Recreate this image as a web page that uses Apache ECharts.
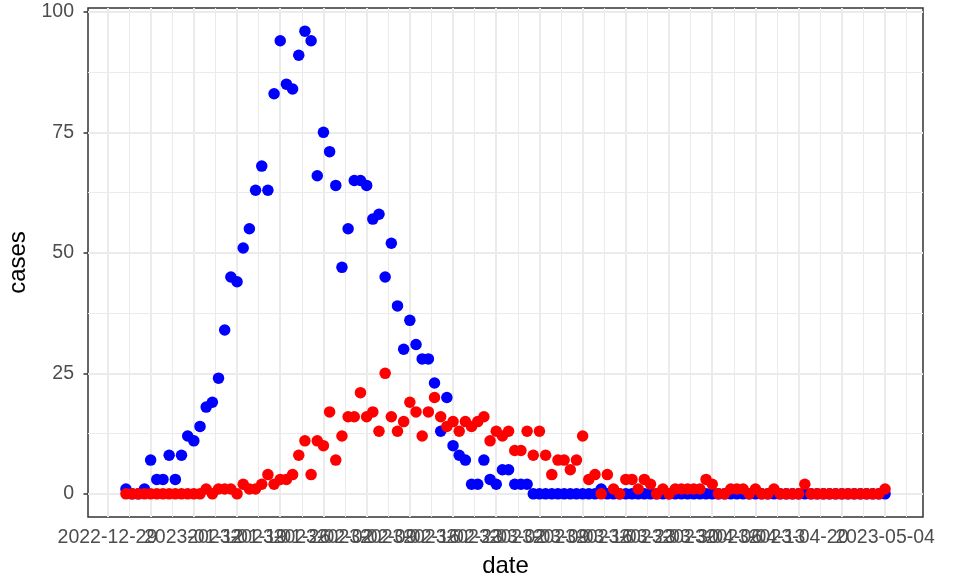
<!DOCTYPE html>
<html>
<head>
<meta charset="utf-8">
<script src="https://cdn.jsdelivr.net/npm/echarts@6/dist/echarts.min.js"></script>
<style>
html,body{margin:0;padding:0;background:#fff;}
#chart{width:953px;height:579px;}
</style>
</head>
<body>
<div id="chart"></div>
<script>
// ---- data ----
const startDate = '2023-01-01';
const blueCases = [
  1,0,0,1,7,3,3,8,3,8,
  12,11,14,18,19,24,34,45,44,51,
  55,63,68,63,83,94,85,84,91,96,
  94,66,75,71,64,47,55,65,65,64,
  57,58,45,52,39,30,36,31,28,28,
  23,13,20,10,8,7,2,2,7,3,
  2,5,5,2,2,2,0,0,0,0,
  0,0,0,0,0,0,0,1,0,0,
  0,0,0,0,0,0,0,0,0,0,
  0,0,0,0,0,0,0,0,0,0,
  0,0,0,0,0,0,0,0,0,0,
  0,0,0,0,0,0,0,0,0,0,
  0,0,0,0
];
const redCases = [
  0,0,0,0,0,0,0,0,0,0,
  0,0,0,1,0,1,1,1,0,2,
  1,1,2,4,2,3,3,4,8,11,
  4,11,10,17,7,12,16,16,21,16,
  17,13,25,16,13,15,19,17,12,17,
  20,16,14,15,13,15,14,15,16,11,
  13,12,13,9,9,13,8,13,8,4,
  7,7,5,7,12,3,4,0,4,1,
  0,3,3,1,3,2,0,1,0,1,
  1,1,1,1,3,2,0,0,1,1,
  1,0,1,0,0,1,0,0,0,0,
  2,0,0,0,0,0,0,0,0,0,
  0,0,0,1
];
const xTickLabels = [
  '2022-12-29','2023-01-05','2023-01-12','2023-01-19','2023-01-26',
  '2023-02-02','2023-02-09','2023-02-16','2023-02-23','2023-03-02',
  '2023-03-09','2023-03-16','2023-03-23','2023-03-30','2023-04-06',
  '2023-04-13','2023-04-20','2023-04-27','2023-05-04'
];
const yTicks = [0, 25, 50, 75, 100];
const yMinorTicks = [12.5, 37.5, 62.5, 87.5];

// ---- build ----
const DAY = 86400000;
const dayNum = s => Math.round(Date.parse(s + 'T00:00:00Z') / DAY);
const dayStr = n => new Date(n * DAY).toISOString().slice(0, 10);
const start = dayNum(startDate);
const blueData = blueCases.map((v, i) => [start + i, v]);
const redData = redCases.map((v, i) => [start + i, v]);
const xTicks = xTickLabels.map(dayNum);
const xMinorTicks = xTicks.map(t => t + 3.5);

// ggplot-like 5% expansion
const allDays = blueData.map(d => d[0]);
const xLo = Math.min(...allDays), xHi = Math.max(...allDays);
const xPad = (xHi - xLo) * 0.05;
const allVals = blueCases.concat(redCases);
const yLo = Math.min(...allVals), yHi = Math.max(...allVals);
const yPad = (yHi - yLo) * 0.05;
const xMin = xLo - xPad, xMax = xHi + xPad;
const yMin = yLo - yPad, yMax = yHi + yPad;

const minorStyle = { color: '#EBEBEB', width: 1, type: 'solid' };
const majorStyle = { color: '#EBEBEB', width: 2, type: 'solid' };
const gridLines = []
  .concat(xMinorTicks.filter(v => v > xMin && v < xMax).map(v => ({ xAxis: v, lineStyle: minorStyle })))
  .concat(yMinorTicks.map(v => ({ yAxis: v, lineStyle: minorStyle })))
  .concat(xTicks.map(v => ({ xAxis: v, lineStyle: majorStyle })))
  .concat(yTicks.map(v => ({ yAxis: v, lineStyle: majorStyle })));

const FONT = '"Liberation Sans", Arial, sans-serif';
const chart = echarts.init(document.getElementById('chart'));
chart.setOption({
  animation: false,
  backgroundColor: '#ffffff',
  grid: {
    left: 88, right: 30, top: 8, bottom: 62,
    show: true, borderColor: '#333333', borderWidth: 1.5,
    backgroundColor: 'transparent',
    outerBoundsMode: 'none', containLabel: false
  },
  xAxis: {
    type: 'value', min: xMin, max: xMax,
    name: 'date', nameLocation: 'middle', nameGap: 37,
    nameTextStyle: { color: '#000', fontSize: 24, fontFamily: FONT },
    axisLine: { show: false },
    axisTick: { show: true, length: 4.5, customValues: xTicks,
      lineStyle: { color: '#333333', width: 1.5 } },
    axisLabel: { show: true, customValues: xTicks, margin: 11,
      showMinLabel: true, showMaxLabel: true, hideOverlap: false,
      color: '#4D4D4D', fontSize: 19.5, fontFamily: FONT,
      formatter: v => dayStr(Math.round(v)) },
    splitLine: { show: false }
  },
  yAxis: {
    type: 'value', min: yMin, max: yMax,
    name: 'cases', nameLocation: 'middle', nameGap: 58, nameRotate: 90,
    nameTextStyle: { color: '#000', fontSize: 24, fontFamily: FONT },
    axisLine: { show: false },
    axisTick: { show: true, length: 4.5, customValues: yTicks,
      lineStyle: { color: '#333333', width: 1.5 } },
    axisLabel: { show: true, customValues: yTicks, margin: 14,
      showMinLabel: true, showMaxLabel: true,
      color: '#4D4D4D', fontSize: 19.5, fontFamily: FONT },
    splitLine: { show: false }
  },
  series: [{
    name: 'grid', type: 'scatter', data: [], z: 1, silent: true,
    markLine: {
      z: 1, silent: true, symbol: ['none', 'none'], animation: false,
      label: { show: false }, emphasis: { disabled: true },
      data: gridLines
    }
  }, {
    name: 'blue', type: 'scatter', data: blueData,
    symbol: 'circle', symbolSize: 11.5,
    itemStyle: { color: '#0000FF', opacity: 1 }, z: 6
  }, {
    name: 'red', type: 'scatter', data: redData,
    symbol: 'circle', symbolSize: 11.5,
    itemStyle: { color: '#FF0000', opacity: 1 }, z: 7
  }]
});
</script>
</body>
</html>
